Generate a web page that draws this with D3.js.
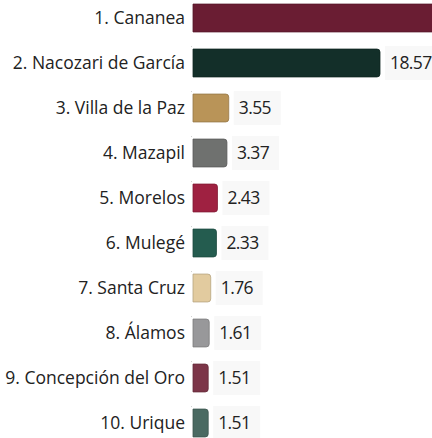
<!DOCTYPE html>
<html>
<head>
<meta charset="utf-8">
<script src="https://cdn.jsdelivr.net/npm/d3@7"></script>
<style>
  body { margin: 0; background: #fff; }
  svg { display: block; }
</style>
</head>
<body>
<svg id="chart" width="432" height="438"></svg>
<script>
// municipios, valores y colores
const names = ['1. Cananea', '2. Nacozari de García', '3. Villa de la Paz', '4. Mazapil',
  '5. Morelos', '6. Mulegé', '7. Santa Cruz', '8. Álamos', '9. Concepción del Oro', '10. Urique'];
const values = [27.5, 18.57, 3.55, 3.37, 2.43, 2.33, 1.76, 1.61, 1.51, 1.51];
const colors = ['#6a1d33', '#132f29', '#b99458', '#6f716f', '#9f2141', '#245c4f',
  '#e2cb9f', '#98989a', '#7c3548', '#4a6a62'];

const data = names.map((n, i) => ({ name: n, value: values[i], color: colors[i] }));

const W = 432;
const svg = d3.select('#chart');
const left = 193;

const x = d3.scaleLinear().domain([0, 18.57]).range([left, 380]);
const y = d3.scaleBand().domain(names).range([-4.5, 445.5]).paddingInner(0.38).paddingOuter(0.19);

// tiny tick dots between the rows
svg.append('g')
  .selectAll('rect')
  .data(names.slice(0, -1))
  .enter()
  .append('rect')
  .attr('x', left - 2)
  .attr('y', d => y(d) + y.step() - 3)
  .attr('width', 1)
  .attr('height', 1)
  .attr('fill', '#d0d0d0');

// labels
svg.append('g')
  .selectAll('text')
  .data(data)
  .enter()
  .append('text')
  .attr('x', left - 8)
  .attr('y', d => y(d.name) + y.bandwidth() / 2)
  .attr('dy', '0.35em')
  .attr('text-anchor', 'end')
  .attr('font-family', 'Open Sans, sans-serif')
  .attr('font-size', 17.5)
  .attr('fill', '#222')
  .text(d => d.name);

// bars with rounded right end
function barPath(d) {
  const x0 = x(0), x1 = x(d.value), y0 = y(d.name), h = y.bandwidth(), r = 3;
  return 'M' + x0 + ',' + y0 + 'H' + (x1 - r) + 'Q' + x1 + ',' + y0 + ' ' + x1 + ',' + (y0 + r) +
    'V' + (y0 + h - r) + 'Q' + x1 + ',' + (y0 + h) + ' ' + (x1 - r) + ',' + (y0 + h) + 'H' + x0 + 'Z';
}

svg.append('g')
  .selectAll('path')
  .data(data)
  .enter()
  .append('path')
  .attr('d', barPath)
  .attr('fill', d => d.color)
  .attr('stroke', d => d3.color(d.color).darker(0.6))
  .attr('stroke-width', 0.8);

// value labels on light boxes (the one past the right edge is cropped in the original)
const vals = svg.append('g')
  .selectAll('g')
  .data(data.filter(d => x(d.value) + 50 < W))
  .enter()
  .append('g')
  .attr('transform', d => 'translate(' + (x(d.value) + 5) + ',' + y(d.name) + ')');

vals.append('rect')
  .attr('x', 0)
  .attr('y', -3)
  .attr('width', 47)
  .attr('height', y.bandwidth() + 6)
  .attr('fill', '#f8f8f8');

vals.append('text')
  .attr('x', 5)
  .attr('y', y.bandwidth() / 2)
  .attr('dy', '0.35em')
  .attr('font-family', 'Open Sans, sans-serif')
  .attr('font-size', 17.5)
  .attr('letter-spacing', -0.6)
  .attr('fill', '#222')
  .text(d => d.value.toFixed(2));
</script>
</body>
</html>
